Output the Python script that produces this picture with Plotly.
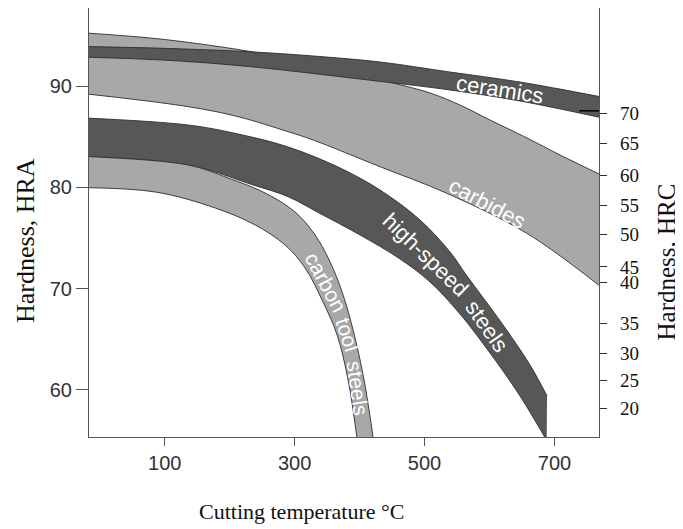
import plotly.graph_objects as go

# ---------------- data (temperature in °C, hardness in HRA) ----------------
ceram_hi_T = [-25, 108.5, 236, 339, 431.5, 539, 647, 769]
ceram_hi = [93.90, 93.70, 93.36, 92.91, 92.37, 91.38, 90.39, 88.96]
ceram_lo_T = [-25, 108.5, 231.5, 436, 539, 647, 769]
ceram_lo = [92.85, 92.52, 91.91, 90.42, 89.61, 88.52, 86.91]

carb_hi_T = [-25, 77.7, 154.6, 236, 308.5, 370, 416.2, 451.5, 508.5, 554.6, 600.8, 657.7, 708.5, 769]
carb_hi = [95.25, 94.74, 94.15, 93.36, 92.47, 91.58, 90.89, 90.30, 89.31, 88.12, 86.64, 84.87, 83.19, 81.31]
carb_lo_T = [-25, 136.2, 213.1, 290, 328.5, 431.5, 534.2, 657.3, 769]
carb_lo = [89.25, 87.96, 86.97, 85.49, 84.67, 82.03, 79.41, 75.46, 70.30]

hss_hi_T = [-25, 136.2, 213.1, 290, 370, 431.5, 493.1, 539.2, 565.4, 620.8, 662.3, 688.5]
hss_hi = [86.85, 86.15, 85.26, 83.98, 81.91, 79.73, 76.77, 73.61, 71.24, 66.41, 62.46, 59.40]
hss_lo_T = [-25, 136.2, 236.2, 290, 339.2, 400.8, 462.3, 508.5, 554.6, 600.8, 646.9, 688.0]
hss_lo = [83.05, 82.20, 80.23, 79.07, 77.41, 75.29, 72.92, 70.65, 67.49, 63.64, 59.40, 55.00]

cts_hi_T = [-25, 136.2, 197.7, 254.6, 300.8, 331.5, 354.6, 373.1, 390, 406.9, 421.5]
cts_hi = [83.05, 82.20, 80.92, 79.44, 77.56, 75.29, 72.63, 69.66, 65.91, 60.98, 55.00]
cts_lo_T = [-25, 85.4, 177.7, 239.2, 285.4, 316.2, 342.3, 365.4, 382.3, 396.5]
cts_lo = [79.97, 79.54, 77.96, 76.28, 74.30, 72.03, 68.87, 65.42, 60.98, 55.00]

x_ticks = [100, 300, 500, 700]
hra_ticks = [60, 70, 80, 90]
hrc_tick_pos = [87.30, 84.34, 81.21, 78.25, 75.39, 72.14, 70.65, 66.57, 63.61, 60.91, 58.18]
hrc_tick_text = ["70", "65", "60", "55", "50", "45", "40", "35", "30", "25", "20"]

labels = ["ceramics", "carbides", "high-speed", "steels", "carbon", "tool", "steels"]
label_T = [616.2, 596.9, 500.8, 594.6, 348.5, 380.8, 396.2]
label_HRA = [89.70, 78.45, 73.32, 66.31, 70.65, 65.42, 60.19]
label_angle = [9, 28, 44, 55, 62, 72, 82]
label_size = [22, 22, 22, 22, 21, 21, 21]

DARK = "#575757"
LIGHT = "#a8a8a8"
EDGE = "#2e2e2e"

fig = go.Figure()


def band(lo_T, lo, hi_T, hi, color):
    fig.add_trace(go.Scatter(x=lo_T, y=lo, mode="lines", line=dict(color=EDGE, width=0.9, shape="spline"),
                             hoverinfo="skip", showlegend=False))
    fig.add_trace(go.Scatter(x=hi_T, y=hi, mode="lines", line=dict(color=EDGE, width=0.9, shape="spline"),
                             fill="tonexty", fillcolor=color, hoverinfo="skip", showlegend=False))


band(carb_lo_T, carb_lo, carb_hi_T, carb_hi, LIGHT)
band(ceram_lo_T, ceram_lo, ceram_hi_T, ceram_hi, DARK)
band(hss_lo_T, hss_lo, hss_hi_T, hss_hi, DARK)
band(cts_lo_T, cts_lo, cts_hi_T, cts_hi, LIGHT)

# dummy trace for the right (HRC) axis
fig.add_trace(go.Scatter(x=[None], y=[None], yaxis="y2", showlegend=False, hoverinfo="skip"))

for t, tx, ty, ang, sz in zip(labels, label_T, label_HRA, label_angle, label_size):
    fig.add_annotation(x=tx, y=ty, xref="x", yref="y", text=t, showarrow=False, textangle=ang,
                       font=dict(family="Liberation Sans, Arial", size=sz, color="white"),
                       xanchor="center", yanchor="middle")

# axis titles
fig.add_annotation(x=0.4176, y=-0.1748, xref="paper", yref="paper", text="Cutting temperature °C",
                   showarrow=False, font=dict(family="Liberation Serif", size=22, color="#111"),
                   xanchor="center", yanchor="middle")
fig.add_annotation(x=-0.1255, y=0.4592, xref="paper", yref="paper", text="Hardness, HRA", textangle=-90,
                   showarrow=False, font=dict(family="Liberation Serif", size=26, color="#111"),
                   xanchor="center", yanchor="middle")
fig.add_annotation(x=1.1333, y=0.4091, xref="paper", yref="paper", text="Hardness, HRC", textangle=-90,
                   showarrow=False, font=dict(family="Liberation Serif", size=25, color="#111"),
                   xanchor="center", yanchor="middle")

fig.add_shape(type="line", xref="x", yref="y", x0=738, x1=768.5, y0=87.55, y1=87.55,
              line=dict(color="black", width=1.5))

yr = [55.35, 97.70]
fig.update_layout(
    width=675, height=521,
    margin=dict(l=81, r=84, t=0, b=92, pad=0),
    paper_bgcolor="white", plot_bgcolor="white",
    xaxis=dict(range=[-16.5, 768.5], tickvals=x_ticks, ticks="outside", ticklen=8, tickcolor="#555",
               showline=True, linecolor="#555", linewidth=1.2, mirror=True, showgrid=False, zeroline=False,
               tickfont=dict(family="Liberation Sans, Arial", size=20, color="#333")),
    yaxis=dict(range=yr, tickvals=hra_ticks, ticks="outside", ticklen=12, tickcolor="#555",
               showline=True, linecolor="#555", linewidth=1.2, showgrid=False, zeroline=False,
               tickfont=dict(family="Liberation Sans, Arial", size=20, color="#333")),
    yaxis2=dict(range=yr, overlaying="y", side="right", anchor="x", tickvals=hrc_tick_pos,
                ticktext=hrc_tick_text, ticks="outside", ticklen=7, tickcolor="#333",
                showline=True, linecolor="#555", linewidth=1.2, showgrid=False, zeroline=False,
                ticklabelstandoff=9,
                tickfont=dict(family="Liberation Serif", size=19, color="#111")),
)

fig.write_html("out.html")
